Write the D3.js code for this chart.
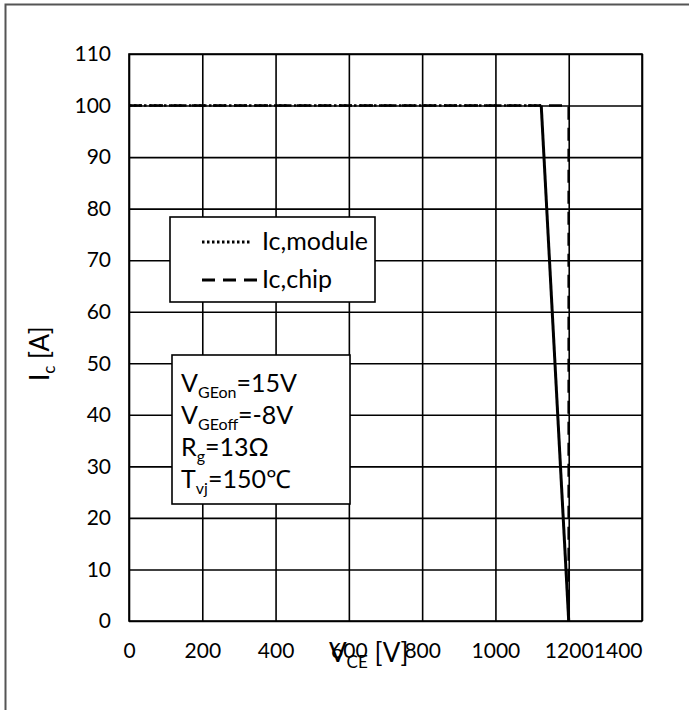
<!DOCTYPE html>
<html>
<head>
<meta charset="utf-8">
<style>
  body { margin: 0; background: #fff; }
  text { font-family: Lato, "Open Sans", sans-serif; fill: #000; }
  .tick text { font-size: 21px; }
  .grid line { stroke: #000; stroke-width: 1.6; }
</style>
</head>
<body>
<svg id="chart" width="689" height="710"></svg>
<script src="https://cdnjs.cloudflare.com/ajax/libs/d3/7.8.5/d3.min.js"></script>
<script>
// curves
var vceModule = [0, 1125, 1200];
var icModule  = [100, 100, 0];
var vceChip   = [0, 1200, 1200];
var icChip    = [100, 100, 0];

var xTicks = [0, 200, 400, 600, 800, 1000, 1200, 1400];
var yTicks = [0, 10, 20, 30, 40, 50, 60, 70, 80, 90, 100, 110];

var legendNames = ["Ic,module", "Ic,chip"];
var condLines = [
  ["V", "GEon", "=15V"],
  ["V", "GEoff", "=-8V"],
  ["R", "g", "=13\u03A9"],
  ["T", "vj", "=150\u2103"]
];

var svg = d3.select("#chart");
var pL = 129, pR = 642, pT = 54, pB = 621;

var x = d3.scaleLinear().domain([0, 1400]).range([pL, pR]);
var y = d3.scaleLinear().domain([0, 110]).range([pB, pT]);

// outer frame
svg.append("rect")
  .attr("x", 5.5).attr("y", 4.5)
  .attr("width", 700).attr("height", 720)
  .attr("fill", "none").attr("stroke", "#555").attr("stroke-width", 2);

// grid + ticks
var gx = svg.append("g").attr("class", "grid")
  .attr("transform", "translate(0," + pB + ")")
  .call(d3.axisBottom(x).tickValues(xTicks).tickFormat(d3.format("d"))
    .tickSize(-(pB - pT)).tickPadding(22));
gx.select(".domain").remove();
// last label is pulled inside the frame, like the original
gx.selectAll(".tick text")
  .filter(function(d) { return d == xTicks[xTicks.length - 1]; })
  .attr("text-anchor", "end");

var gy = svg.append("g").attr("class", "grid")
  .attr("transform", "translate(" + pL + ",0)")
  .call(d3.axisLeft(y).tickValues(yTicks).tickFormat(d3.format("d"))
    .tickSize(-(pR - pL)).tickPadding(18));
gy.select(".domain").remove();

svg.append("rect")
  .attr("x", pL).attr("y", pT)
  .attr("width", pR - pL).attr("height", pB - pT)
  .attr("fill", "none").attr("stroke", "#000").attr("stroke-width", 1.6);

var line = d3.line()
  .x(function(d) { return x(d[0]); })
  .y(function(d) { return y(d[1]); });

var chip = d3.zip(vceChip, icChip);
var module = d3.zip(vceModule, icModule);

svg.append("path").datum(chip)
  .attr("d", line).attr("fill", "none")
  .attr("stroke", "#000").attr("stroke-width", 2.6)
  .attr("stroke-dasharray", "13,8");

svg.append("path").datum(module.slice(0, 2))
  .attr("d", line).attr("fill", "none")
  .attr("stroke", "#000").attr("stroke-width", 2.6)
  .attr("stroke-dasharray", "2.5,2.5");

svg.append("path").datum(module.slice(1))
  .attr("d", line).attr("fill", "none")
  .attr("stroke", "#000").attr("stroke-width", 3);

// legend
svg.append("rect")
  .attr("x", 170).attr("y", 217).attr("width", 205).attr("height", 85)
  .attr("fill", "#fff").attr("stroke", "#000").attr("stroke-width", 1.6);

var dashes = ["2.5,2.5", "13,8"];
legendNames.forEach(function(name, i) {
  var ly = 242 + i * 38;
  svg.append("line")
    .attr("x1", 202).attr("x2", i == 0 ? 251 : 257)
    .attr("y1", ly).attr("y2", ly)
    .attr("stroke", "#000").attr("stroke-width", 3)
    .attr("stroke-dasharray", dashes[i]);
  svg.append("text")
    .attr("x", 262).attr("y", ly + 8)
    .style("font-size", "25px")
    .text(name);
});

// operating conditions box
svg.append("rect")
  .attr("x", 172).attr("y", 355).attr("width", 178).attr("height", 149)
  .attr("fill", "#fff").attr("stroke", "#000").attr("stroke-width", 1.6);

condLines.forEach(function(c, i) {
  var t = svg.append("text")
    .attr("x", 181).attr("y", 392 + i * 32)
    .style("font-size", "25px");
  t.append("tspan").text(c[0]);
  t.append("tspan").attr("dy", 6).style("font-size", "16px").text(c[1]);
  t.append("tspan").attr("dy", -6).text(c[2]);
});

// axis labels
var xl = svg.append("text")
  .attr("x", 329).attr("y", 662)
  .style("font-size", "26px");
xl.append("tspan").text("V");
xl.append("tspan").attr("dy", 6).style("font-size", "17px").text("CE");
xl.append("tspan").attr("dy", -6).text(" [V]");

var yl = svg.append("text")
  .attr("transform", "translate(49,381) rotate(-90)")
  .style("font-size", "26px");
yl.append("tspan").text("I");
yl.append("tspan").attr("dy", 6).style("font-size", "17px").text("c");
yl.append("tspan").attr("dy", -6).text(" [A]");
</script>
</body>
</html>
